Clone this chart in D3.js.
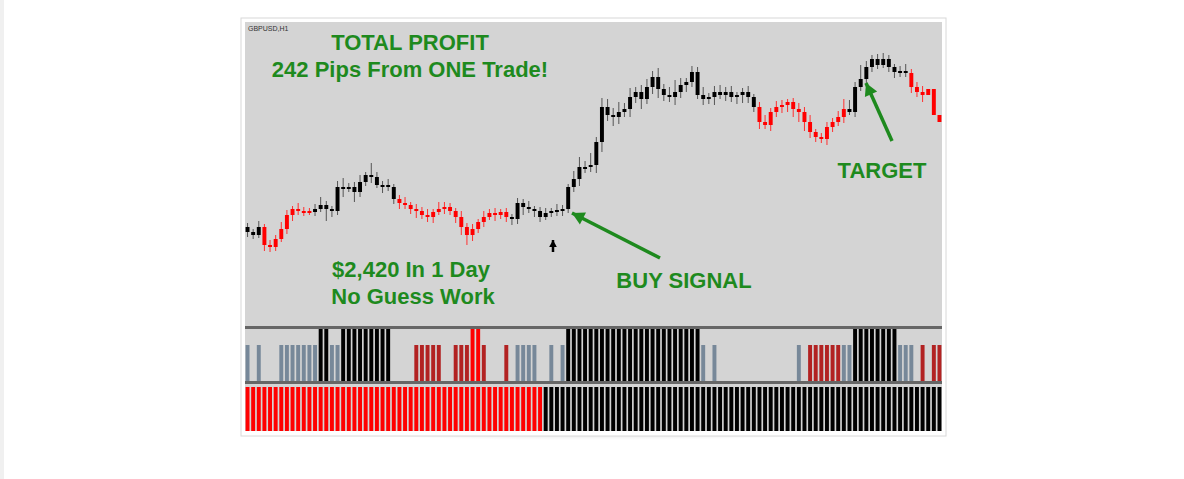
<!DOCTYPE html>
<meta charset="utf-8">
<script src="https://d3js.org/d3.v7.min.js"></script>
<style>
  body { margin: 0; background: #fff; }
  svg { display: block; font-family: "Liberation Sans", Arial, sans-serif; }
</style>
<div id="chart"></div>
<script>
    // closes in pips above base, one per H1 candle
    const closes = [95,92,100,82,80,88,98,112,118,116,116,115,
        118,122,118,116,140,138,140,135,145,152,150,142,142,140,128,
        124,122,118,116,112,110,115,118,120,116,110,100,92,98,105,110,114,112,115,110,
        108,124,120,118,116,110,114,116,117,118,
        140,148,160,160,162,185,220,212,210,215,218,230,235,228,240,250,238,232,230,235,
        242,245,255,232,228,230,235,232,235,230,232,235,230,220,
        205,202,215,220,222,225,218,215,205,195,190,188,200,205,210,218,
        215,240,248,260,268,262,268,260,255,256,254,240,235,232,238,212,205];
    const firstOpen = 100;
    const wickUp = [4,3,6,3,5,4,7,5,3,6,4,3,5,8,4,3,6,9,4,5,7,3,12,5,4,6,3,
        4,6,3,5,4,6,3,7,5,4,3,6,4,5,3,6,4,5,3,4,
        3,5,4,6,3,4,5,3,6,4,
        3,8,10,6,12,5,9,8,7,10,6,9,5,7,8,6,9,5,8,12,7,4,6,5,8,4,6,7,5,6,3,
        4,6,3,5,7,4,6,5,3,4,6,5,7,3,4,5,
        4,6,10,9,5,14,6,4,5,6,4,3,5,7,4,5,6];
    const wickDn = [5,4,3,6,5,4,3,5,6,4,5,3,4,3,12,6,4,8,3,10,5,4,6,3,8,4,5,
        6,4,5,7,4,5,6,3,5,4,6,8,10,6,4,5,3,6,4,5,
        6,5,8,4,6,5,3,4,5,6,
        4,5,7,6,5,8,10,6,9,7,5,8,6,10,5,7,9,6,5,8,6,7,5,4,6,5,8,4,6,5,7,
        8,6,5,7,4,6,5,6,7,8,10,9,6,5,4,6,
        5,4,6,3,5,4,6,5,4,3,5,6,5,4,6,5,7];
    // candle colour runs (red = bearish regime)
    const redRuns = [[3, 11], [27, 46], [91, 106], [118, 123]];
    // signal strip: g gray, d dark red, k black full, r red full, . none
    const signalCodes = "g.g...gggggggkkggkkkkkkkkk....ddddd..dddrrd...d.gggg..g.gkkkkkkkkkkkkkkkkkkkkkkkkg.g..............g.ddddddggkkkkkkkkggg.d.dd";
    const trendRuns = [{from: 0, to: 52, color: "#ff0000"}, {from: 53, to: 123, color: "#000000"}];

    const W = 1184, H = 479;
    const svg = d3.select("#chart").append("svg").attr("width", W).attr("height", H);

    // shadow under the panel
    const defs = svg.append("defs");
    const rg = defs.append("radialGradient").attr("id", "shad").attr("cx", "50%").attr("cy", "0%").attr("r", "60%");
    rg.append("stop").attr("offset", "0%").attr("stop-color", "#000").attr("stop-opacity", 0.35);
    rg.append("stop").attr("offset", "100%").attr("stop-color", "#000").attr("stop-opacity", 0);
    svg.append("ellipse").attr("cx", 593).attr("cy", 436).attr("rx", 350).attr("ry", 22).attr("fill", "url(#shad)");
    svg.append("rect").attr("x", 0).attr("y", 0).attr("width", 4).attr("height", H).attr("fill", "#f0f0f0");

    // panel frame
    svg.append("rect").attr("x", 241).attr("y", 18).attr("width", 705).attr("height", 418)
        .attr("fill", "#fff").attr("stroke", "#d8d8d8");
    svg.append("rect").attr("x", 245).attr("y", 22).attr("width", 697).attr("height", 409).attr("fill", "#d4d4d4");

    const n = closes.length;
    const x = d3.scaleBand().domain(d3.range(n)).range([245, 942]).paddingInner(0.3).paddingOuter(0.1);
    const y = d3.scaleLinear().domain([0, 305]).range([327, 22]);

    const isRed = i => redRuns.some(r => i >= r[0] && i <= r[1]);
    const candles = closes.map((c, i) => {
        const o = i === 0 ? firstOpen : closes[i - 1];
        return {i, o, c, h: Math.max(o, c) + wickUp[i], l: Math.min(o, c) - wickDn[i]};
    });

    const cg = svg.append("g");
    cg.selectAll("line").data(candles).join("line")
        .attr("x1", d => x(d.i) + x.bandwidth() / 2).attr("x2", d => x(d.i) + x.bandwidth() / 2)
        .attr("y1", d => y(d.h)).attr("y2", d => y(d.l))
        .attr("stroke", d => isRed(d.i) ? "#ff3030" : "#555").attr("stroke-width", 1);
    cg.selectAll("rect").data(candles).join("rect")
        .attr("x", d => x(d.i)).attr("width", x.bandwidth())
        .attr("y", d => y(Math.max(d.o, d.c)))
        .attr("height", d => Math.max(2, Math.abs(y(d.o) - y(d.c))))
        .attr("fill", d => isRed(d.i) ? "#ff0000" : "#000");

    // separator lines
    svg.append("rect").attr("x", 245).attr("y", 326).attr("width", 697).attr("height", 3).attr("fill", "#666");
    svg.append("rect").attr("x", 245).attr("y", 381).attr("width", 697).attr("height", 3).attr("fill", "#666");

    // signal strip
    const sigColor = {g: "#778899", d: "#b22222", k: "#000", r: "#ff0000"};
    const sig = signalCodes.split("").map((c, i) => ({i, c})).filter(d => d.c !== ".");
    svg.append("g").selectAll("rect").data(sig).join("rect")
        .attr("x", d => x(d.i)).attr("width", x.bandwidth())
        .attr("y", d => (d.c === "k" || d.c === "r") ? 329 : 345)
        .attr("height", d => (d.c === "k" || d.c === "r") ? 52 : 36)
        .attr("fill", d => sigColor[d.c]);

    // trend strip
    const trend = d3.range(n).map(i => ({i, color: trendRuns.find(r => i >= r.from && i <= r.to).color}));
    svg.append("g").selectAll("rect").data(trend).join("rect")
        .attr("x", d => x(d.i)).attr("width", x.bandwidth())
        .attr("y", 387).attr("height", 44)
        .attr("fill", d => d.color);

    // texts
    const green = "#1e8a1e";
    svg.append("text").attr("x", 248).attr("y", 31).attr("font-size", 7).attr("fill", "#333").text("GBPUSD,H1");
    const big = (t, cx, cy) => svg.append("text").attr("x", cx).attr("y", cy).attr("text-anchor", "middle")
        .attr("font-size", 22).attr("font-weight", "bold").attr("fill", green).text(t);
    big("TOTAL PROFIT", 410, 50);
    big("242 Pips From ONE Trade!", 410, 77);
    big("$2,420 In 1 Day", 411, 277);
    big("No Guess Work", 413, 304);
    big("BUY SIGNAL", 684, 288);
    big("TARGET", 882, 178);

    // arrows
    const arrow = (x1, y1, x2, y2, col, w, hs) => {
        svg.append("line").attr("x1", x1).attr("y1", y1).attr("x2", x2).attr("y2", y2)
            .attr("stroke", col).attr("stroke-width", w);
        const a = Math.atan2(y2 - y1, x2 - x1);
        const p = [[x2, y2],
            [x2 - hs * Math.cos(a - 0.5), y2 - hs * Math.sin(a - 0.5)],
            [x2 - hs * Math.cos(a + 0.5), y2 - hs * Math.sin(a + 0.5)]];
        svg.append("polygon").attr("points", p.map(q => q.join(",")).join(" ")).attr("fill", col);
    };
    arrow(660, 258, 572, 213, green, 3.5, 14);
    arrow(892, 141, 866, 83, green, 3.5, 14);
    arrow(553, 252, 553, 240, "#000", 2.5, 8);
</script>
